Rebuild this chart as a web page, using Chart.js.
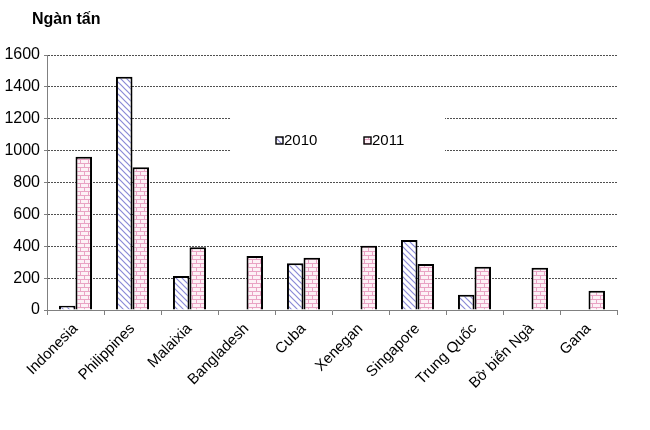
<!DOCTYPE html>
<html lang="vi">
<head>
<meta charset="UTF-8">
<title>Ngàn tấn</title>
<style>
  html, body { margin: 0; padding: 0; background: #fff; }
  #wrap { width: 650px; height: 430px; }
</style>
</head>
<body>
<div id="wrap"><canvas id="bieudo"></canvas></div>
<script src="https://cdn.jsdelivr.net/npm/chart.js"></script>
<script>
// du lieu doc tu hinh
const quocGia = ['Indonesia', 'Philippines', 'Malaixia', 'Bangladesh', 'Cuba', 'Xenegan', 'Singapore', 'Trung Quốc', 'Bờ biển Ngà', 'Gana'];
const nam2010 = [27, 1464, 213, 0, 293, 0, 439, 96, 0, 0];
const nam2011 = [962, 895, 393, 339, 328, 403, 289, 272, 265, 121];
const tenSeries = ['2010', '2011'];
const donVi = 'Ngàn tấn';

const FONT = '"Liberation Sans", Arial, sans-serif';

// hoa van soc cheo (2010)
function taoSocCheo() {
    const c = document.createElement('canvas');
    c.width = 6; c.height = 6;
    const g = c.getContext('2d');
    g.fillStyle = '#ffffff';
    g.fillRect(0, 0, 6, 6);
    g.strokeStyle = '#8a8ad6';
    g.lineWidth = 1.2;
    g.beginPath();
    g.moveTo(-1, -1); g.lineTo(7, 7);
    g.moveTo(-4, 2); g.lineTo(4, 10);
    g.moveTo(2, -4); g.lineTo(10, 4);
    g.stroke();
    return g.createPattern(c, 'repeat');
}

// hoa van gach (2011)
function taoGach() {
    const c = document.createElement('canvas');
    c.width = 8; c.height = 8;
    const g = c.getContext('2d');
    g.fillStyle = '#fdf1f6';
    g.fillRect(0, 0, 8, 8);
    g.fillStyle = '#e9a3c4';
    g.fillRect(0, 3, 8, 1);
    g.fillRect(0, 7, 8, 1);
    g.fillRect(0, 0, 1, 3);
    g.fillRect(4, 4, 1, 3);
    return g.createPattern(c, 'repeat');
}

// chu thich nam giua bieu do, co nen trang
const chuThich = {
    id: 'chuThich',
    afterDatasetsDraw(chart) {
        const ctx = chart.ctx;
        const y = chart.scales.y;
        ctx.save();
        ctx.fillStyle = '#ffffff';
        ctx.fillRect(231, y.getPixelForValue(1250), 214, y.getPixelForValue(950) - y.getPixelForValue(1250));
        const viTri = [276, 364];
        const ty = 141;
        ctx.font = '15px ' + FONT;
        ctx.textBaseline = 'middle';
        chart.data.datasets.forEach(function (ds, i) {
            const x = viTri[i];
            ctx.fillStyle = ds.backgroundColor;
            ctx.fillRect(x, ty - 4, 7, 7);
            ctx.strokeStyle = '#000';
            ctx.lineWidth = 1.4;
            ctx.strokeRect(x, ty - 4, 7, 7);
            ctx.fillStyle = '#000';
            ctx.fillText(ds.label, x + 8, ty);
        });
        // don vi
        ctx.font = 'bold 16px ' + FONT;
        ctx.fillText(donVi, 32, 20);
        ctx.restore();
    }
};

const ctx = document.getElementById('bieudo').getContext('2d');

const duLieu = {
    labels: quocGia,
    datasets: [{
        label: tenSeries[0],
        data: nam2010,
        backgroundColor: taoSocCheo(),
        borderColor: '#000',
        borderWidth: 2,
        borderSkipped: 'bottom'
    }, {
        label: tenSeries[1],
        data: nam2011,
        backgroundColor: taoGach(),
        borderColor: '#000',
        borderWidth: 2,
        borderSkipped: 'bottom'
    }]
};

new Chart(ctx, {
    type: 'bar',
    data: duLieu,
    options: {
        responsive: true,
        maintainAspectRatio: false,
        animation: false,
        devicePixelRatio: 1,
        datasets: {
            bar: { barPercentage: 1.0, categoryPercentage: 0.58 }
        },
        layout: { padding: { top: 55, right: 33, left: 0, bottom: 0 } },
        plugins: {
            legend: { display: false },
            tooltip: { enabled: false }
        },
        scales: {
            x: {
                afterFit: function (s) { s.height = 120; },
                grid: {
                    display: true,
                    drawOnChartArea: false,
                    tickLength: 5,
                    color: '#808080',
                    offset: true
                },
                border: { color: '#808080', width: 1 },
                ticks: {
                    color: '#000',
                    font: { family: FONT, size: 15 },
                    maxRotation: 45,
                    minRotation: 45,
                    autoSkip: false,
                    padding: 5
                }
            },
            y: {
                min: 0,
                max: 1600,
                afterFit: function (s) { s.width = 47; },
                ticks: {
                    stepSize: 200,
                    color: '#000',
                    font: { family: FONT, size: 16 },
                    padding: 4,
                    callback: function (v) { return String(v); }
                },
                grid: {
                    color: '#505050',
                    tickLength: 3,
                    tickColor: '#808080',
                    tickBorderDash: []
                },
                border: { color: '#808080', width: 1, dash: [2, 1] }
            }
        }
    },
    plugins: [chuThich]
});
</script>
</body>
</html>
